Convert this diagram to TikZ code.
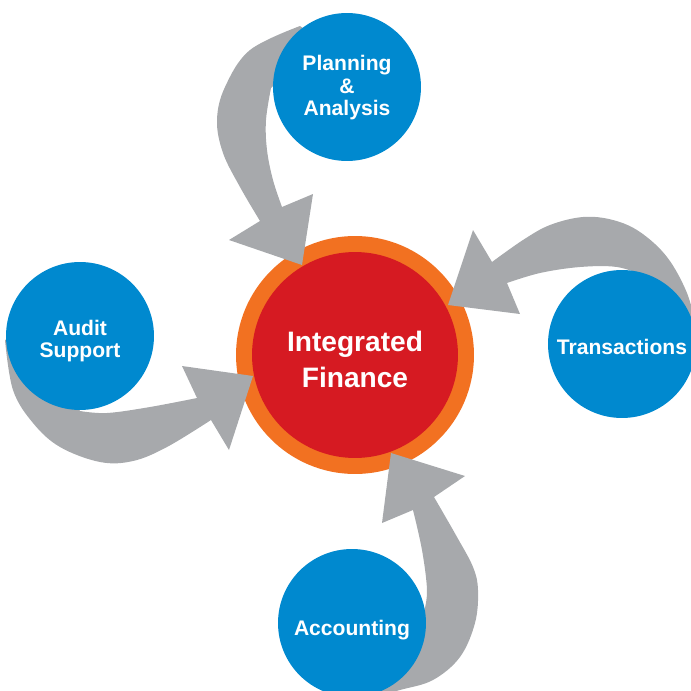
\documentclass[tikz,border=0pt]{standalone}
\usepackage{fontspec}
\setmainfont{Liberation Sans}
\definecolor{spokeblue}{RGB}{0,137,207}
\definecolor{ringorange}{RGB}{242,113,33}
\definecolor{hubred}{RGB}{214,26,34}
\definecolor{arrowgrey}{RGB}{167,169,172}
\begin{document}
\begin{tikzpicture}[x=0.02cm,y=-0.02cm,
  ringstyle/.style={circle,fill=ringorange,minimum size=4.76cm,inner sep=0pt},
  hubstyle/.style={circle,fill=hubred,minimum size=4.12cm,inner sep=0pt},
  hubtext/.style={text=white,align=center,inner sep=0pt,font=\bfseries\fontsize{16}{20.5}\selectfont},
  spokestyle/.style={circle,fill=spokeblue,minimum size=2.96cm,inner sep=0pt},
  spoketext/.style={text=white,align=center,inner sep=0pt,font=\bfseries\fontsize{12}{12.8}\selectfont},
  bigarrow/.style={fill=arrowgrey}]
\useasboundingbox (0,0) rectangle (691,691);
% hub
\node[ringstyle] (ring) at (355,355) {};
\node[hubstyle] (hub) at (355,355) {};
\node[hubtext] (hublabel) at (355,359) {Integrated\\Finance};
% arrows
\fill[bigarrow] (320,40) -- plot[smooth,tension=0.6] coordinates {(300,26) (250,50) (225,87) (217,120) (223,153) (240,187) (260,221)}
  -- (229,240) -- (302,265) -- (313,194)
  -- plot[smooth,tension=0.6] coordinates {(282,207) (273,180) (267,150) (266,120) (271,88)} -- cycle;
\fill[bigarrow] (660,300) -- plot[smooth,tension=0.6] coordinates {(645,276) (617,267) (580,267) (540,273) (507,283)}
  -- (520,314) -- (448,305) -- (473,230)
  -- plot[smooth,tension=0.6] coordinates {(492,262) (523,240) (550,225) (583,217) (613,220) (640,232) (667,257) (687,293) (697,330)} -- cycle;
\fill[bigarrow] (30,330) -- plot[smooth,tension=0.6] coordinates {(5,340) (13,390) (33,423) (60,447) (100,462) (133,461) (167,447) (211,420)}
  -- (229,450) -- (253,376) -- (182,366)
  -- plot[smooth,tension=0.6] coordinates {(197,398) (150,407) (107,413) (80,411)} -- cycle;
\fill[bigarrow] (380,640) -- plot[smooth,tension=0.6] coordinates {(424,612) (427,590) (422,550) (413,510)}
  -- (382,523) -- (391,453) -- (465,476)
  -- plot[smooth,tension=0.6] coordinates {(434,497) (457,537) (473,567) (478,590) (475,623) (460,657) (433,680) (400,690) (370,698)} -- cycle;
% spokes
\node[spokestyle] (plan) at (347,87) {};
\node[spoketext] (planlabel) at (347,88) {Planning\\\&\\Analysis};
\node[spokestyle] (trans) at (622,344) {};
\node[spoketext] (translabel) at (622,347) {Transactions};
\node[spokestyle] (audit) at (80,336) {};
\node[spoketext] (auditlabel) at (80,341) {Audit\\Support};
\node[spokestyle] (acct) at (352,623) {};
\node[spoketext] (acctlabel) at (352,630) {Accounting};
\end{tikzpicture}
\end{document}
